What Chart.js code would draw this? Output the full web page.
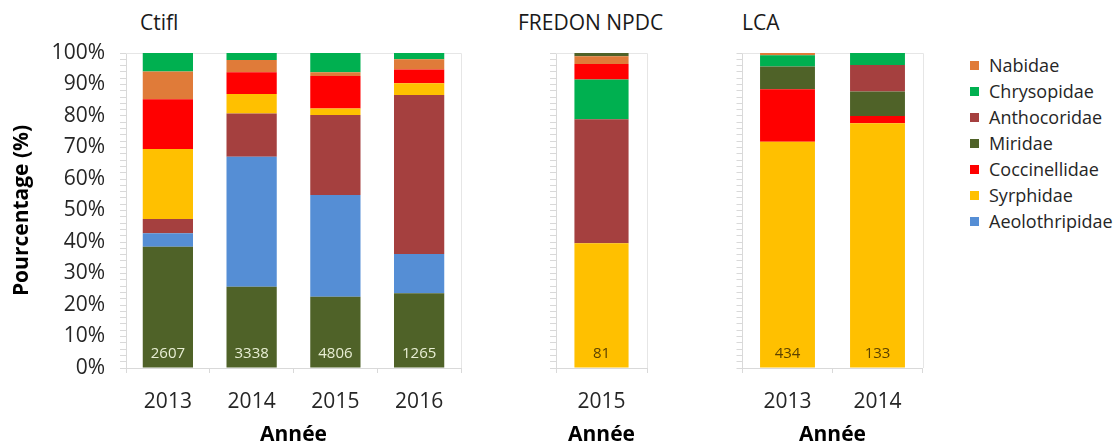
<!DOCTYPE html>
<html lang="fr">
<head>
<meta charset="utf-8">
<title>Familles d'auxiliaires</title>
<script src="https://cdn.jsdelivr.net/npm/chart.js@4.4.1/dist/chart.umd.min.js"></script>
<style>
    html, body { margin: 0; padding: 0; background: #fff; }
    body { width: 1120px; height: 446px; position: relative; overflow: hidden; font-family: "Open Sans", sans-serif; color: #262626; }
    .panel { position: absolute; top: 0; }
    .site { position: absolute; top: 9px; font-size: 21px; line-height: 26px; color: #1a1a1a; }
    #legend { position: absolute; left: 970px; top: 52px; margin: 0; padding: 0; list-style: none; }
    #legend li { height: 26px; display: flex; align-items: center; font-size: 18px; white-space: nowrap; }
    #legend .box { width: 9px; height: 9px; margin-right: 10px; flex: none; }
</style>
</head>
<body>
<div class="site" style="left:140px">Ctifl</div>
<div class="site" style="left:518px">FREDON NPDC</div>
<div class="site" style="left:742px">LCA</div>
<canvas id="ctifl" class="panel" style="left:0" width="470" height="446"></canvas>
<canvas id="fredon" class="panel" style="left:500px" width="170" height="446"></canvas>
<canvas id="lca" class="panel" style="left:690px" width="250" height="446"></canvas>
<ul id="legend"></ul>
<script>
    "use strict";

    // Ctifl (share of each family, %)
    const ctiflYears = ["2013", "2014", "2015", "2016"];
    const ctiflMiridae = [38.5, 25.8, 22.6, 23.7];
    const ctiflAeolothripidae = [4.3, 41.3, 32.3, 12.5];
    const ctiflAnthocoridae = [4.5, 13.7, 25.4, 50.5];
    const ctiflSyrphidae = [22.2, 6.2, 2.1, 3.7];
    const ctiflCoccinellidae = [15.8, 6.9, 10.3, 4.4];
    const ctiflNabidae = [8.8, 3.9, 1.2, 3.2];
    const ctiflChrysopidae = [5.9, 2.2, 6.1, 2.0];
    const ctiflCounts = [2607, 3338, 4806, 1265];

    // FREDON NPDC
    const fredonYears = ["2015"];
    const fredonSyrphidae = [39.6];
    const fredonAnthocoridae = [39.4];
    const fredonChrysopidae = [12.6];
    const fredonCoccinellidae = [4.9];
    const fredonNabidae = [2.5];
    const fredonMiridae = [1.0];
    const fredonCounts = [81];

    // LCA
    const lcaYears = ["2013", "2014"];
    const lcaAeolothripidae = [0, 0];
    const lcaSyrphidae = [71.8, 77.7];
    const lcaCoccinellidae = [16.7, 2.3];
    const lcaMiridae = [7.2, 7.8];
    const lcaAnthocoridae = [0, 8.4];
    const lcaChrysopidae = [3.6, 3.8];
    const lcaNabidae = [0.7, 0];
    const lcaCounts = [434, 133];

    const percentTicks = [0, 10, 20, 30, 40, 50, 60, 70, 80, 90, 100];

    const colors = {
        Aeolothripidae: "#558ed5",
        Syrphidae: "#ffc000",
        Coccinellidae: "#ff0000",
        Miridae: "#4f6228",
        Anthocoridae: "#a5403f",
        Chrysopidae: "#00b050",
        Nabidae: "#e07b39"
    };
    const axisGrey = "#d9d9d9";
    const textDark = "#262626";

    Chart.defaults.font.family = "'Open Sans', sans-serif";
    Chart.defaults.color = textDark;

    const barCounts = {
        id: "barCounts",
        afterDatasetsDraw(chart, args, opts) {
            if (!opts.counts) return;
            const ctx = chart.ctx;
            const y = chart.scales.y.getPixelForValue(0) - 14.5;
            ctx.save();
            ctx.font = "15px 'Open Sans'";
            ctx.fillStyle = opts.color;
            ctx.textAlign = "center";
            ctx.textBaseline = "middle";
            chart.getDatasetMeta(0).data.forEach((bar, i) => {
                ctx.fillText(String(opts.counts[i]), bar.x, y);
            });
            ctx.restore();
        }
    };

    const plotFrame = {
        id: "plotFrame",
        beforeDatasetsDraw(chart) {
            const { ctx, chartArea: a } = chart;
            ctx.save();
            ctx.strokeStyle = "#e6e6e6";
            ctx.lineWidth = 1;
            ctx.beginPath();
            ctx.moveTo(a.left, a.top + 0.5);
            ctx.lineTo(Math.round(a.right) + 0.5, a.top + 0.5);
            ctx.lineTo(Math.round(a.right) + 0.5, a.bottom);
            ctx.stroke();
            ctx.restore();
        }
    };

    function makeChart(id, labels, rows, o) {
        return new Chart(document.getElementById(id), {
            type: "bar",
            data: {
                labels,
                datasets: rows.map(([name, data]) => ({
                    label: name,
                    data,
                    backgroundColor: colors[name],
                    borderWidth: 0,
                    barPercentage: o.barPct,
                    categoryPercentage: 1
                }))
            },
            options: {
                responsive: false,
                animation: false,
                layout: { padding: { top: 53, right: o.padRight, left: 0, bottom: 0 } },
                plugins: {
                    legend: { display: false },
                    tooltip: { enabled: false },
                    barCounts: { counts: o.counts, color: o.countColor }
                },
                scales: {
                    x: {
                        stacked: true,
                        grid: { drawOnChartArea: false, tickLength: 5, color: axisGrey },
                        border: { color: axisGrey },
                        ticks: { padding: 16, color: textDark, font: { size: 21 } },
                        title: {
                            display: true, text: "Année", color: "#000",
                            font: { size: 21, weight: "bold", lineHeight: 1 },
                            padding: 0
                        },
                        afterFit: s => { s.height = 78; }
                    },
                    y: {
                        stacked: true,
                        min: 0,
                        max: 100,
                        afterBuildTicks: s => {
                            const ticks = [];
                            for (let v = 0; v <= 100; v += 2) ticks.push({ value: v });
                            s.ticks = ticks;
                        },
                        ticks: {
                            display: o.showLabels,
                            autoSkip: false,
                            padding: 15,
                            color: textDark,
                            font: { size: 21 },
                            callback: v => percentTicks.includes(v) ? v + "%" : ""
                        },
                        grid: { drawOnChartArea: false, tickLength: 6, color: axisGrey },
                        border: { color: axisGrey },
                        title: {
                            display: o.showLabels, text: "Pourcentage (%)", color: "#000",
                            font: { size: 21, weight: "bold" },
                            padding: { top: 9, bottom: 0 }
                        },
                        afterFit: s => { s.width = o.axisWidth; }
                    }
                }
            },
            plugins: [barCounts, plotFrame]
        });
    }

    makeChart("ctifl", ctiflYears, [
        ["Miridae", ctiflMiridae],
        ["Aeolothripidae", ctiflAeolothripidae],
        ["Anthocoridae", ctiflAnthocoridae],
        ["Syrphidae", ctiflSyrphidae],
        ["Coccinellidae", ctiflCoccinellidae],
        ["Nabidae", ctiflNabidae],
        ["Chrysopidae", ctiflChrysopidae]
    ], { axisWidth: 126, padRight: 9, barPct: 0.6, showLabels: true, counts: ctiflCounts, countColor: "#e8eed4" });

    makeChart("fredon", fredonYears, [
        ["Syrphidae", fredonSyrphidae],
        ["Anthocoridae", fredonAnthocoridae],
        ["Chrysopidae", fredonChrysopidae],
        ["Coccinellidae", fredonCoccinellidae],
        ["Nabidae", fredonNabidae],
        ["Miridae", fredonMiridae]
    ], { axisWidth: 56, padRight: 23, barPct: 0.595, showLabels: false, counts: fredonCounts, countColor: "#5c4200" });

    const lcaChart = makeChart("lca", lcaYears, [
        ["Aeolothripidae", lcaAeolothripidae],
        ["Syrphidae", lcaSyrphidae],
        ["Coccinellidae", lcaCoccinellidae],
        ["Miridae", lcaMiridae],
        ["Anthocoridae", lcaAnthocoridae],
        ["Chrysopidae", lcaChrysopidae],
        ["Nabidae", lcaNabidae]
    ], { axisWidth: 52.5, padRight: 17.5, barPct: 0.61, showLabels: false, counts: lcaCounts, countColor: "#5c4200" });

    // legend built from the LCA chart, top item = last series (like the original)
    const items = Chart.defaults.plugins.legend.labels.generateLabels(lcaChart).reverse();
    document.getElementById("legend").innerHTML = items.map(item => `
        <li><span class="box" style="background:${item.fillStyle}"></span>${item.text}</li>
    `).join("");
</script>
</body>
</html>
